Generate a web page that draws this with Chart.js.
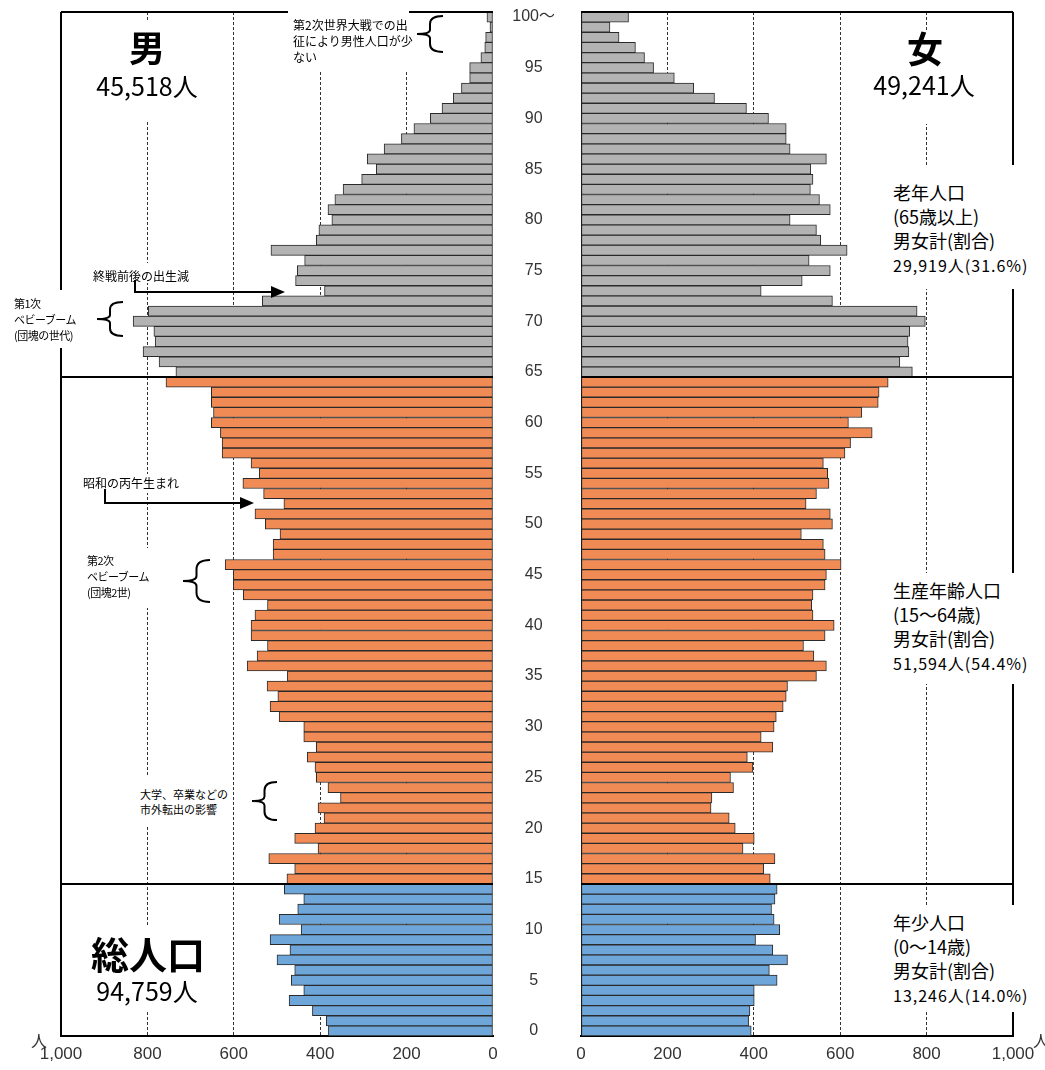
<!DOCTYPE html>
<html lang="ja">
<head>
<meta charset="utf-8">
<title>人口ピラミッド</title>
<script src="https://cdn.jsdelivr.net/npm/chart.js@4"></script>
<style>
  html, body { margin: 0; padding: 0; background: #fff; }
  #page { position: relative; width: 1045px; height: 1070px; overflow: hidden;
          font-family: "Noto Sans CJK JP", sans-serif; color: #000; }
  canvas { position: absolute; top: 0; }
  #male { left: 0; }
  #female { left: 493px; }
  .box { position: absolute; background: #fff; }
  .t { position: absolute; white-space: nowrap; }
  .big { text-align: center; }
  .blk { font-size: 18px; line-height: 24px; }
  .blk .n { font-size: 16px; letter-spacing: 1px; }
  .note { font-size: 12px; line-height: 16px; }
  #marks { position: absolute; left: 0; top: 0; }
</style>
</head>
<body>
<div id="page">
  <canvas id="male" width="500" height="1070"></canvas>
  <canvas id="female" width="552" height="1070"></canvas>

  <!-- white backing behind the notes (they hide grid / frame lines) -->
  <div class="box" style="left:95px;top:22px;width:105px;height:100px"></div>
  <div class="box" style="left:866px;top:30px;width:120px;height:94px"></div>
  <div class="box" style="left:86px;top:926px;width:126px;height:84px"></div>
  <div class="box" style="left:884px;top:165px;width:161px;height:124px"></div>
  <div class="box" style="left:884px;top:573px;width:161px;height:111px"></div>
  <div class="box" style="left:884px;top:905px;width:161px;height:107px"></div>
  <div class="box" style="left:288px;top:0;width:121px;height:70px"></div>
  <div class="box" style="left:90px;top:263px;width:100px;height:20px"></div>
  <div class="box" style="left:0;top:290px;width:86px;height:58px"></div>
  <div class="box" style="left:80px;top:474px;width:98px;height:19px"></div>
  <div class="box" style="left:84px;top:548px;width:68px;height:60px"></div>
  <div class="box" style="left:136px;top:777px;width:94px;height:50px"></div>

  <div class="t big" style="left:97px;top:24px;width:100px;font-size:36px;line-height:44px;font-weight:700">男</div>
  <div class="t big" style="left:82px;top:70px;width:130px;font-size:25px;line-height:30px">45,518人</div>
  <div class="t big" style="left:875px;top:25px;width:100px;font-size:36px;line-height:44px;font-weight:700">女</div>
  <div class="t big" style="left:859px;top:69px;width:130px;font-size:25px;line-height:30px">49,241人</div>
  <div class="t big" style="left:68px;top:931px;width:160px;font-size:38px;line-height:44px;font-weight:700">総人口</div>
  <div class="t big" style="left:82px;top:975px;width:130px;font-size:25px;line-height:30px">94,759人</div>

  <div class="t blk" style="left:893px;top:180px">老年人口<br>(65歳以上)<br>男女計(割合)<br><span class="n">29,919人(31.6%)</span></div>
  <div class="t blk" style="left:893px;top:578px">生産年齢人口<br>(15〜64歳)<br>男女計(割合)<br><span class="n">51,594人(54.4%)</span></div>
  <div class="t blk" style="left:893px;top:910px">年少人口<br>(0〜14歳)<br>男女計(割合)<br><span class="n">13,246人(14.0%)</span></div>

  <div class="t note" style="left:293px;top:17px">第2次世界大戦での出<br>征により男性人口が少<br>ない</div>
  <div class="t note" style="left:93px;top:268px">終戦前後の出生減</div>
  <div class="t note" style="left:14px;top:295px;font-size:11px;letter-spacing:-0.5px">第1次<br>ベビーブーム<br>(団塊の世代)</div>
  <div class="t note" style="left:83px;top:475px">昭和の丙午生まれ</div>
  <div class="t note" style="left:87px;top:552px;font-size:11px;letter-spacing:-0.5px">第2次<br>ベビーブーム<br>(団塊2世)</div>
  <div class="t note" style="left:140px;top:787px;font-size:11px;line-height:15px">大学、卒業などの<br>市外転出の影響</div>

  <div class="t" style="left:31px;top:1030px;font-size:16px;line-height:20px;color:#333">人</div>
  <div class="t" style="left:1033px;top:1030px;font-size:16px;line-height:20px;color:#333">人</div>

  <svg id="marks" width="1045" height="1070"></svg>
</div>

<script>
// 年齢 (0〜100歳以上)
const ages = [
  0, 1, 2, 3, 4, 5, 6, 7, 8, 9, 10, 11, 12, 13, 14, 15, 16, 17, 18, 19,
  20, 21, 22, 23, 24, 25, 26, 27, 28, 29, 30, 31, 32, 33, 34, 35, 36, 37, 38, 39,
  40, 41, 42, 43, 44, 45, 46, 47, 48, 49, 50, 51, 52, 53, 54, 55, 56, 57, 58, 59,
  60, 61, 62, 63, 64, 65, 66, 67, 68, 69, 70, 71, 72, 73, 74, 75, 76, 77, 78, 79,
  80, 81, 82, 83, 84, 85, 86, 87, 88, 89, 90, 91, 92, 93, 94, 95, 96, 97, 98, 99,
  100
];

// 男 (人)
const male = [
  381, 386, 418, 472, 438, 467, 459, 500, 470, 516, 444, 495, 452, 438, 483, 477, 459, 519, 405, 459,
  412, 391, 405, 353, 382, 409, 412, 430, 409, 438, 438, 495, 516, 498, 523, 476, 569, 546, 522, 560,
  560, 551, 522, 578, 601, 601, 620, 509, 509, 493, 527, 551, 484, 531, 579, 541, 560, 627, 627, 631,
  652, 647, 652, 652, 757, 734, 773, 810, 782, 785, 833, 798, 534, 390, 457, 453, 436, 514, 409, 403,
  373, 382, 366, 347, 304, 270, 291, 252, 212, 183, 145, 118, 92, 73, 54, 54, 28, 19, 17, 7,
  14
];

// 女 (人)
const female = [
  394, 388, 391, 401, 401, 454, 436, 478, 444, 404, 460, 447, 441, 449, 454, 438, 423, 449, 375, 401,
  357, 343, 301, 303, 353, 346, 398, 385, 444, 417, 447, 452, 468, 475, 478, 545, 568, 539, 515, 565,
  586, 537, 534, 537, 565, 568, 602, 565, 561, 510, 582, 577, 521, 545, 574, 571, 561, 611, 624, 674,
  619, 650, 688, 690, 711, 767, 738, 759, 757, 761, 797, 778, 582, 417, 512, 577, 528, 616, 555, 545,
  484, 577, 552, 531, 537, 532, 568, 484, 475, 475, 434, 383, 309, 261, 216, 168, 147, 126, 88, 67,
  110
];

// 生産年齢人口・老年人口の開始年齢
const groupStarts = [15, 65];

const ageTickAt = [0, 5, 10, 15, 20, 25, 30, 35, 40, 45, 50, 55, 60, 65, 70, 75, 80, 85, 90, 95, 100];
const ageTickText = ['0', '5', '10', '15', '20', '25', '30', '35', '40', '45', '50',
  '55', '60', '65', '70', '75', '80', '85', '90', '95', '100〜'];
const popTicks = [0, 200, 400, 600, 800, 1000];

const barColors = ['#6ea6da', '#f08b55', '#b3b3b3'];

function colorFor(age) {
  if (age >= groupStarts[1]) return barColors[2];
  if (age >= groupStarts[0]) return barColors[1];
  return barColors[0];
}

// 外枠と年齢区分の横線
const framePlugin = {
  id: 'frame',
  afterDatasetsDraw(chart, args, opts) {
    const { ctx, chartArea: a, scales: { y } } = chart;
    const outerX = opts.side === 'left' ? a.left : a.right;
    ctx.save();
    ctx.strokeStyle = '#000';
    ctx.lineWidth = 2;
    ctx.beginPath();
    ctx.moveTo(outerX, a.bottom);
    ctx.lineTo(outerX, a.top);
    ctx.moveTo(a.left, a.top);
    ctx.lineTo(a.right, a.top);
    groupStarts.forEach(age => {
      const yy = (y.getPixelForValue(age) + y.getPixelForValue(age - 1)) / 2;
      ctx.moveTo(a.left, yy);
      ctx.lineTo(a.right, yy);
    });
    ctx.stroke();
    ctx.restore();
  }
};

function pyramid(canvasId, values, side) {
  const isLeft = side === 'left';
  return new Chart(document.getElementById(canvasId), {
    type: 'bar',
    data: {
      labels: ages,
      datasets: [{
        data: values,
        backgroundColor: ages.map(colorFor),
        borderColor: '#2a2a2a',
        borderWidth: 1,
        borderSkipped: false,
        categoryPercentage: 1,
        barPercentage: 1
      }]
    },
    options: {
      indexAxis: 'y',
      responsive: false,
      animation: false,
      layout: {
        padding: isLeft
          ? { left: 61, right: 7, top: 12, bottom: 0 }
          : { left: 0, right: 32, top: 12, bottom: 0 }
      },
      plugins: {
        legend: { display: false },
        tooltip: { enabled: false },
        frame: { side: side }
      },
      scales: {
        x: {
          reverse: isLeft,
          min: 0,
          max: 1000,
          afterBuildTicks: s => { s.ticks = popTicks.map(v => ({ value: v })); },
          afterFit: s => { s.height = 34; },
          ticks: {
            padding: 8,
            maxRotation: 0,
            color: '#333',
            font: { family: "'Liberation Sans'", size: 17 }
          },
          grid: {
            drawTicks: false,
            lineWidth: 1,
            color: c => (c.tick && c.tick.value % 1000 === 0) ? 'rgba(0,0,0,0)' : '#333'
          },
          border: { display: true, color: '#000', width: 2, dash: [3, 2] }
        },
        y: {
          reverse: true,
          display: !isLeft,
          position: 'left',
          afterFit: s => {
            if (!isLeft) s.width = 88;
            s.paddingTop = 0;
            s.paddingBottom = 0;
          },
          grid: { display: false },
          border: { display: true, color: '#000', width: 1 },
          ticks: {
            autoSkip: false,
            crossAlign: 'center',
            padding: 18,
            color: '#333',
            font: { family: "'Liberation Sans', 'Noto Sans CJK JP'", size: 16 },
            callback: (v, i) => {
              const k = ageTickAt.indexOf(ages[i]);
              return k >= 0 ? ageTickText[k] : '';
            }
          }
        }
      }
    },
    plugins: [framePlugin]
  });
}

pyramid('male', male, 'left');
pyramid('female', female, 'right');

// 注記の括弧と矢印
function brace(x0, x1, y0, y1) {
  const xm = (x0 + x1) / 2, ym = (y0 + y1) / 2, h = y1 - y0;
  return `M${x1},${y0} Q${xm},${y0} ${xm},${y0 + h * 0.22} L${xm},${ym - h * 0.12} ` +
    `Q${xm},${ym} ${x0},${ym} Q${xm},${ym} ${xm},${ym + h * 0.12} ` +
    `L${xm},${y1 - h * 0.22} Q${xm},${y1} ${x1},${y1}`;
}
const braces = [[417, 443, 16, 52], [97, 123, 302, 336], [183, 210, 560, 602], [252, 277, 782, 820]];
let svg = '';
braces.forEach(b => {
  svg += `<path d="${brace(...b)}" fill="none" stroke="#000" stroke-width="2"/>`;
});
svg += '<path d="M135,280 V292 H273" fill="none" stroke="#000" stroke-width="2"/>';
svg += '<polygon points="271,286 285,292 271,298" fill="#000"/>';
svg += '<path d="M105,489 V503 H242" fill="none" stroke="#000" stroke-width="2"/>';
svg += '<polygon points="240,497 254,503 240,509" fill="#000"/>';
document.getElementById('marks').innerHTML = svg;
</script>
</body>
</html>
